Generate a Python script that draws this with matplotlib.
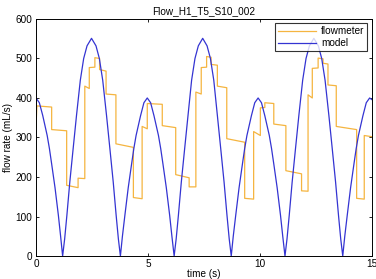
import matplotlib
matplotlib.use('Agg')
import matplotlib.pyplot as plt

plt.rcParams['font.family'] = ['Liberation Sans', 'DejaVu Sans']

# flowmeter trace (step-like), time in s, flow in mL/s
t_flow = [0.00, 0.04, 0.70, 0.70, 1.37, 1.37, 1.88, 1.88, 2.18, 2.18,
          2.38, 2.38, 2.63, 2.63, 2.84, 2.84, 3.13, 3.13, 3.57, 3.57,
          4.35, 4.35, 4.74, 4.74, 4.97, 4.97, 5.64, 5.64, 6.24, 6.24,
          6.84, 6.84, 7.14, 7.14, 7.38, 7.38, 7.62, 7.62, 7.82, 7.82,
          8.10, 8.10, 8.52, 8.52, 9.32, 9.32, 9.72, 9.72, 10.02, 10.02,
          10.22, 10.22, 10.62, 10.62, 11.16, 11.16, 11.86, 11.86, 12.15, 12.15,
          12.34, 12.34, 12.60, 12.60, 12.82, 12.82, 13.04, 13.04, 13.41, 13.41,
          14.32, 14.32, 14.66, 14.66, 15.0]
v_flow = [325, 380, 377, 320, 317, 179, 173, 197, 196, 430,
          424, 477, 478, 502, 500, 472, 468, 410, 408, 284,
          275, 148, 145, 328, 322, 386, 384, 330, 325, 206,
          198, 175, 175, 415, 410, 477, 478, 505, 503, 485,
          483, 430, 426, 297, 288, 146, 144, 315, 305, 375,
          376, 388, 386, 334, 330, 216, 208, 165, 164, 408,
          400, 475, 476, 501, 499, 488, 486, 433, 431, 328,
          320, 146, 144, 305, 302]

# model curve
t_model = [0.00, 0.15, 0.30, 0.50, 0.60, 0.70, 0.85, 1.00, 1.10, 1.19,
           1.28, 1.38, 1.51, 1.66, 1.81, 1.98, 2.13, 2.28, 2.48, 2.68,
           2.83, 2.98, 3.15, 3.30, 3.45, 3.58, 3.68, 3.77,
           3.86, 3.97, 4.12, 4.27, 4.37, 4.47, 4.67, 4.82, 4.97, 5.12,
           5.27, 5.47, 5.57, 5.67, 5.82, 5.97, 6.07, 6.17,
           6.26, 6.36, 6.49, 6.64, 6.79, 6.95, 7.10, 7.25, 7.445, 7.64,
           7.79, 7.94, 8.10, 8.25, 8.40, 8.53, 8.63, 8.72,
           8.81, 8.92, 9.07, 9.22, 9.32, 9.42, 9.62, 9.77, 9.92, 10.07,
           10.22, 10.42, 10.52, 10.62, 10.77, 10.92, 11.02, 11.12,
           11.21, 11.31, 11.44, 11.59, 11.74, 11.91, 12.06, 12.21, 12.41, 12.61,
           12.76, 12.91, 13.08, 13.23, 13.38, 13.51, 13.61, 13.70,
           13.79, 13.90, 14.05, 14.20, 14.30, 14.40, 14.60, 14.75, 14.90, 15.00]
v_model = [400, 388, 356, 305, 272, 233, 173, 103, 50, 0,
           43, 103, 187, 272, 356, 445, 500, 532, 551, 532,
           500, 445, 356, 272, 187, 103, 43, 0,
           50, 103, 173, 233, 272, 305, 355, 388, 400, 388,
           355, 305, 272, 233, 173, 103, 50, 0,
           43, 103, 187, 272, 356, 445, 500, 532, 551, 532,
           500, 445, 356, 272, 187, 103, 43, 0,
           50, 103, 173, 233, 272, 305, 355, 388, 400, 388,
           355, 305, 272, 233, 173, 103, 50, 0,
           43, 103, 187, 272, 356, 445, 500, 532, 551, 532,
           500, 445, 356, 272, 187, 103, 43, 0,
           50, 103, 173, 233, 272, 305, 355, 388, 400, 396]

fig = plt.figure(figsize=(3.76, 2.79), dpi=100)
ax = fig.add_axes([0.0957, 0.0824, 0.8933, 0.8496])

ax.plot(t_flow, v_flow, color='#f5b540', lw=0.9, label='flowmeter')
ax.plot(t_model, v_model, color='#3434d2', lw=0.9, label='model')

ax.set_xlim(0, 15)
ax.set_ylim(0, 600)
ax.set_xticks([0, 5, 10, 15])
ax.set_yticks([0, 100, 200, 300, 400, 500, 600])
ax.tick_params(direction='in', top=True, right=True, labelsize=7.2,
               length=2.5, width=0.6, pad=2.5)
for s in ax.spines.values():
    s.set_linewidth(0.7)

ax.set_title('Flow_H1_T5_S10_002', fontsize=7.2, pad=3.5)
ax.set_xlabel('time (s)', fontsize=7.2, labelpad=0)
ax.set_ylabel('flow rate (mL/s)', fontsize=7.2, labelpad=2)

leg = ax.legend(loc='upper right', fontsize=7.2, frameon=True, fancybox=False,
                borderaxespad=0.45, handlelength=3.8, handletextpad=0.5,
                borderpad=0.3, labelspacing=0.2)
leg.get_frame().set_edgecolor('black')
leg.get_frame().set_linewidth(0.8)
leg.set_zorder(5)

plt.savefig('out.png', dpi=100)
